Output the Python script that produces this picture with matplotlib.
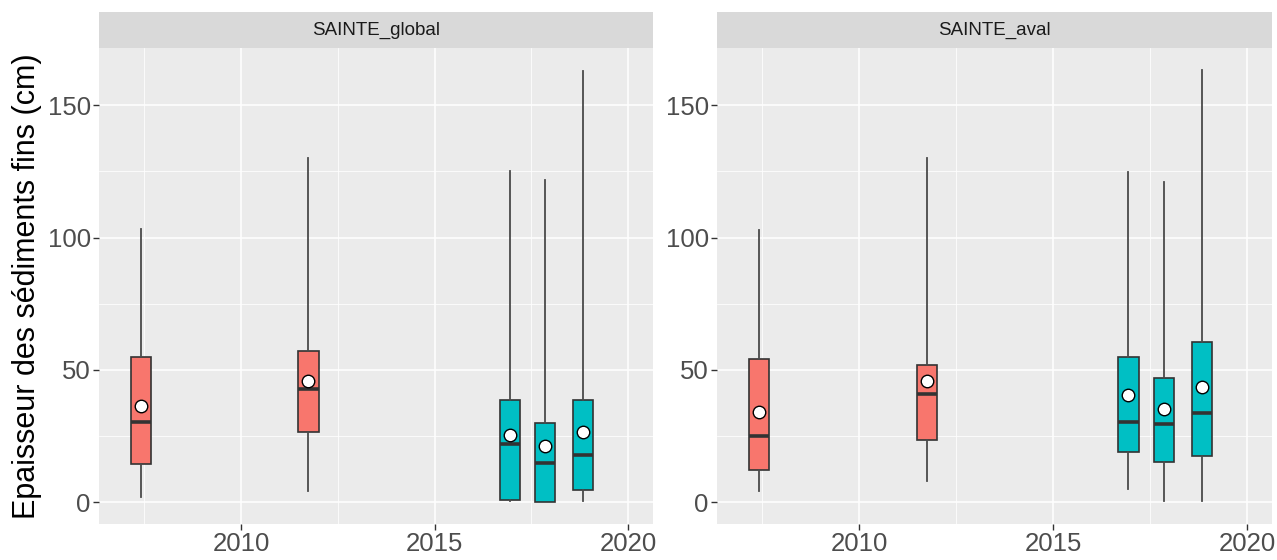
import matplotlib
matplotlib.use("Agg")
import matplotlib.pyplot as plt
from matplotlib.ticker import MultipleLocator

plt.rcParams['font.family'] = ['Liberation Sans', 'DejaVu Sans']

# per-facet box statistics
facets = ["SAINTE_global", "SAINTE_aval"]
years = [2007.41, 2011.74, 2016.94, 2017.85, 2018.84]
fills = ["#F8766D", "#F8766D", "#00BFC4", "#00BFC4", "#00BFC4"]

global_whislo = [2.0, 4.4, 0.3, 0.0, 0.3]
global_q1 = [14.6, 26.4, 1.0, 0.0, 4.7]
global_med = [30.2, 42.8, 22.0, 15.0, 17.7]
global_q3 = [54.7, 57.1, 38.8, 30.0, 38.8]
global_whishi = [103.3, 130.1, 125.3, 121.7, 163.0]
global_mean = [36.5, 46.0, 25.3, 21.1, 26.6]

aval_whislo = [4.4, 7.9, 5.0, 0.4, 0.4]
aval_q1 = [12.1, 23.4, 19.1, 15.1, 17.6]
aval_med = [24.9, 40.8, 30.2, 29.7, 33.7]
aval_q3 = [54.1, 51.7, 54.7, 47.1, 60.6]
aval_whishi = [102.9, 130.1, 124.7, 121.0, 163.3]
aval_mean = [34.1, 46.0, 40.6, 35.4, 43.5]

facet_data = {
    "SAINTE_global": (global_whislo, global_q1, global_med, global_q3, global_whishi, global_mean),
    "SAINTE_aval": (aval_whislo, aval_q1, aval_med, aval_q3, aval_whishi, aval_mean),
}

W, H = 1277, 560
fig = plt.figure(figsize=(W / 100, H / 100), dpi=100)

panels = [(99, 653), (717, 1272)]
top, bottom, strip_top = 48, 524, 12
line_col = "#333333"

for name, (x0, x1) in zip(facets, panels):
    ax = fig.add_axes([x0 / W, 1 - bottom / H, (x1 - x0) / W, (bottom - top) / H])
    lo, q1, med, q3, hi, mean = facet_data[name]
    stats = []
    for i in range(len(years)):
        stats.append(dict(whislo=lo[i], q1=q1[i], med=med[i], q3=q3[i],
                          whishi=hi[i], mean=mean[i], fliers=[]))
    bp = ax.bxp(stats, positions=years, widths=0.52, patch_artist=True,
                showmeans=True, showcaps=False, manage_ticks=False,
                boxprops=dict(edgecolor=line_col, linewidth=1.2),
                whiskerprops=dict(color="#4a4a4a", linewidth=1.3),
                medianprops=dict(color=line_col, linewidth=2.6, solid_capstyle="butt"),
                meanprops=dict(marker="o", markerfacecolor="white",
                               markeredgecolor="black", markersize=9,
                               markeredgewidth=1.0))
    for patch, c in zip(bp["boxes"], fills):
        patch.set_facecolor(c)
    for m in bp["means"]:
        m.set_zorder(5)

    ax.set_xlim(2006.33, 2020.64)
    ax.set_ylim(-8.2, 171.6)
    ax.set_facecolor("#EBEBEB")
    ax.xaxis.set_major_locator(MultipleLocator(5))
    ax.xaxis.set_minor_locator(MultipleLocator(2.5))
    ax.yaxis.set_major_locator(MultipleLocator(50))
    ax.yaxis.set_minor_locator(MultipleLocator(25))
    ax.grid(which="major", color="white", linewidth=1.1)
    ax.grid(which="minor", color="white", linewidth=0.55)
    ax.set_axisbelow(True)
    for s in ax.spines.values():
        s.set_visible(False)
    ax.tick_params(which="major", length=4, width=1, color=line_col,
                   labelsize=18.5, labelcolor="#4D4D4D", pad=2)
    ax.tick_params(which="minor", length=0)

    # facet strip
    sax = fig.add_axes([x0 / W, 1 - top / H, (x1 - x0) / W, (top - strip_top) / H])
    sax.set_facecolor("#D9D9D9")
    sax.set_xticks([])
    sax.set_yticks([])
    for s in sax.spines.values():
        s.set_visible(False)
    sax.text(0.5, 0.5, name, ha="center", va="center", fontsize=13.5,
             color="#1A1A1A", transform=sax.transAxes)

    if x0 == panels[0][0]:
        ax.set_ylabel("Epaisseur des sédiments fins (cm)", fontsize=22,
                      color="black", labelpad=4)

fig.savefig("out.png", dpi=100, facecolor="white")
